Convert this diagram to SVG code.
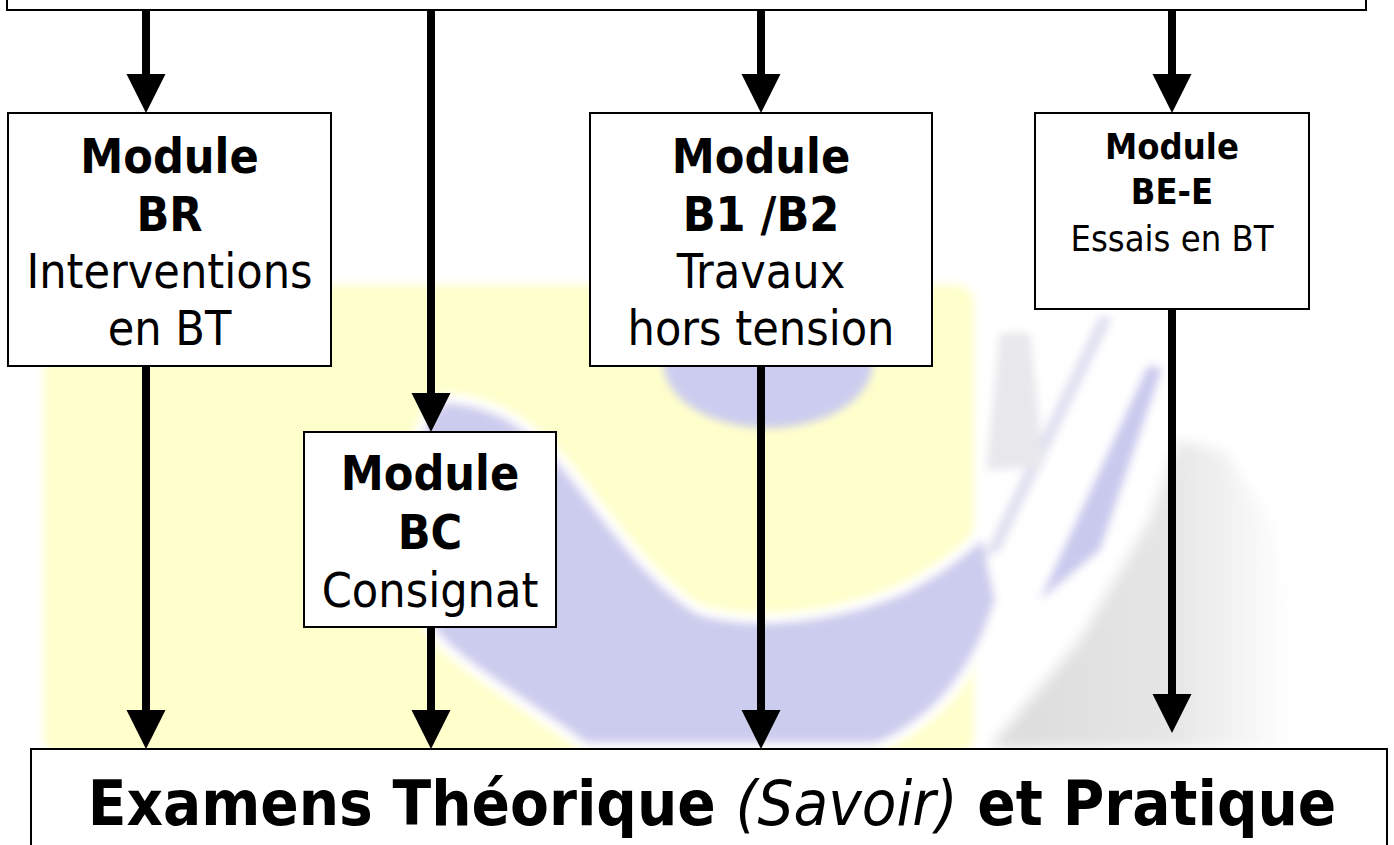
<svg xmlns="http://www.w3.org/2000/svg" width="1394" height="845" viewBox="0 0 1394 845">
<style>
.box{fill:#fff;stroke:#000;stroke-width:2}
.t{font-family:"DejaVu Sans Condensed","DejaVu Sans",sans-serif;font-stretch:semi-condensed;text-anchor:middle;fill:#000}
.b{font-weight:bold}
.s48{font-size:48px}
.s36{font-size:36px}
.con{stroke:#000;stroke-width:8;fill:none;marker-end:url(#ah)}
</style>
<defs>
<marker id="ah" markerUnits="userSpaceOnUse" markerWidth="40" markerHeight="40" viewBox="0 0 40 40" refX="2" refY="20" orient="auto">
<path d="M0,0.5 L39,20 L0,39.5 z" fill="#000"/>
</marker>
<filter id="soft" x="-20%" y="-20%" width="140%" height="140%"><feGaussianBlur stdDeviation="4"/></filter>
<filter id="soft2" x="-20%" y="-20%" width="140%" height="140%"><feGaussianBlur stdDeviation="7"/></filter>
<linearGradient id="gg" x1="1000" y1="0" x2="1290" y2="0" gradientUnits="userSpaceOnUse">
<stop offset="0" stop-color="#dcdcdc"/><stop offset="0.6" stop-color="#e6e6e6"/><stop offset="1" stop-color="#ffffff"/>
</linearGradient>
</defs>
<rect width="1394" height="845" fill="#fff"/>
<g id="watermark">
<rect x="44" y="285" width="930" height="470" rx="18" fill="#ffffcc" filter="url(#soft)"/>
<path d="M990,748 L1080,640 L1150,520 L1178,440 L1225,452 L1275,530 L1290,640 L1290,748 Z" fill="url(#gg)" filter="url(#soft2)"/>
<g filter="url(#soft)">
<path d="M445,398 C490,400 530,420 570,470 C610,520 650,580 700,610 C760,628 840,615 900,590 C940,570 965,550 985,530 L1000,600 C985,650 960,690 930,715 C905,735 885,748 870,748 L585,748 C520,700 450,660 430,630 C405,580 400,500 415,450 C420,420 430,405 445,398 Z" fill="#ccccee" stroke="#fff" stroke-width="10"/>
<path d="M982,560 L1000,550 L1112,318 L1100,316 Z" fill="#dedef0"/>
<path d="M1040,600 L1100,550 L1162,368 L1148,366 Z" fill="#c9c9ee"/>
<path d="M986,470 L1044,467 L1030,333 L1000,333 Z" fill="#e8e8ec"/>
<ellipse cx="768" cy="362" rx="105" ry="66" fill="#ccccf0"/>
</g>
</g>
<g id="connectors">
<line class="con" x1="146" y1="10" x2="146" y2="76"/>
<line class="con" x1="431" y1="10" x2="431" y2="395"/>
<line class="con" x1="761" y1="10" x2="761" y2="76"/>
<line class="con" x1="1172" y1="10" x2="1172" y2="76"/>
<line class="con" x1="146" y1="366" x2="146" y2="712"/>
<line class="con" x1="431" y1="627" x2="431" y2="712"/>
<line class="con" x1="761" y1="366" x2="761" y2="712"/>
<line class="con" x1="1172" y1="309" x2="1172" y2="696"/>
</g>
<g id="top">
<rect class="box" x="7" y="-20" width="1359" height="30"/>
</g>
<g id="br">
<rect class="box" x="8" y="113" width="323" height="253"/>
<text class="t b s48" x="169.5" y="173">Module</text>
<text class="t b s48" x="169.5" y="231">BR</text>
<text class="t s48" x="169.5" y="288">Interventions</text>
<text class="t s48" x="169.5" y="345">en BT</text>
</g>
<g id="b1b2">
<rect class="box" x="590" y="113" width="342" height="253"/>
<text class="t b s48" x="761" y="173">Module</text>
<text class="t b s48" x="761" y="231">B1 /B2</text>
<text class="t s48" x="761" y="288">Travaux</text>
<text class="t s48" x="761" y="345">hors tension</text>
</g>
<g id="bee">
<rect class="box" x="1035" y="113" width="274" height="196"/>
<text class="t b s36" x="1172" y="159">Module</text>
<text class="t b s36" x="1172" y="204">BE-E</text>
<text class="t s36" x="1172" y="251">Essais en BT</text>
</g>
<g id="bc">
<rect class="box" x="304" y="432" width="252" height="195"/>
<text class="t b s48" x="430" y="490">Module</text>
<text class="t b s48" x="430" y="549">BC</text>
<text class="t s48" x="430" y="607">Consignat</text>
</g>
<g id="exam">
<rect class="box" x="31" y="749" width="1356" height="130"/>
<text class="t" x="712" y="825" style="font-size:63px"><tspan font-weight="bold">Examens Théorique </tspan><tspan font-style="italic">(Savoir)</tspan><tspan font-weight="bold"> et Pratique</tspan></text>
</g>
</svg>
